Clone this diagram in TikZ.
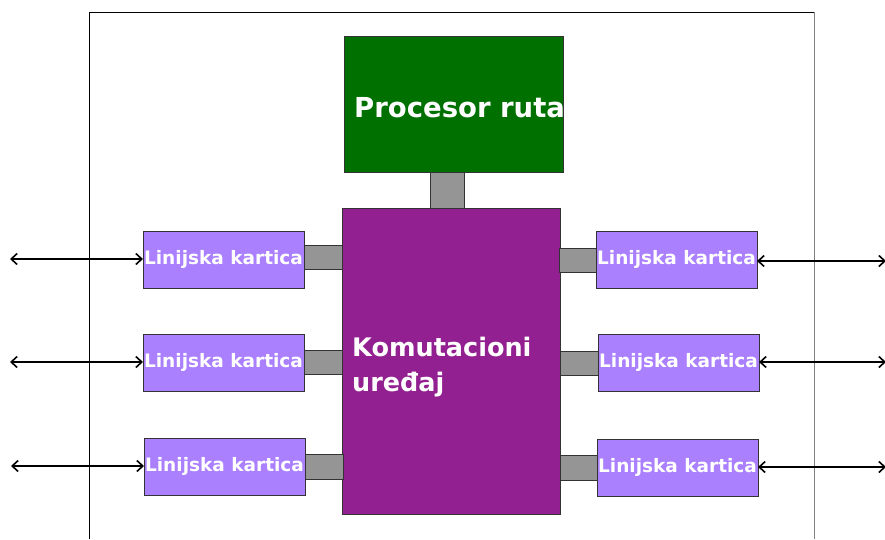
\documentclass[tikz,border=0pt]{standalone}
\usepackage{fontspec}
\setmainfont{DejaVu Sans}
\usetikzlibrary{arrows.meta}
\definecolor{procgreen}{HTML}{007000}
\definecolor{switchpurple}{HTML}{922090}
\definecolor{cardviolet}{HTML}{AA80FF}
\definecolor{linkgray}{HTML}{959595}
\tikzset{
  box/.style={draw=black!80, line width=0.8pt, inner sep=0pt, outer sep=0pt, anchor=north west},
  card/.style={box, fill=cardviolet, minimum width=161pt, minimum height=57pt,
    text=white, font=\fontsize{18.5}{18.5}\selectfont\bfseries},
  link/.style={box, fill=linkgray},
  io/.style={line width=1.6pt, {Straight Barb[length=6pt,width=11pt]}-{Straight Barb[length=6pt,width=11pt]}}
}
\begin{document}
\begin{tikzpicture}[x=1pt,y=-1pt]
\useasboundingbox (0,0) rectangle (885,539);
% router frame
\draw[black, line width=0.8pt] (89,539) -- (89,12) -- (814,12);
\draw[black!50, line width=1pt] (814,12) -- (814,539);
% route processor and its link to the switch fabric
\node[box, fill=procgreen, minimum width=219pt, minimum height=136pt] (proc) at (344,36) {};
\node[text=white, font=\fontsize{27.5}{27.5}\selectfont\bfseries, anchor=base west, inner sep=0pt] (proctext) at (354,117) {Procesor ruta};
\node[link, minimum width=34pt, minimum height=36pt] (plink) at (430,172) {};
% switch fabric
\node[box, fill=switchpurple, minimum width=218pt, minimum height=306pt] (fabric) at (342,208) {};
\node[text=white, font=\fontsize{25.5}{35}\selectfont\bfseries, anchor=base west, align=left, inner sep=0pt] (fabtext) at (352,391) {Komutacioni\\uređaj};
% links between line cards and fabric, left side
\node[link, minimum width=38pt, minimum height=24pt] (ll1) at (304,245) {};
\node[link, minimum width=38pt, minimum height=24pt] (ll2) at (304,350) {};
\node[link, minimum width=38pt, minimum height=25pt] (ll3) at (305,454) {};
% right side
\node[link, minimum width=38pt, minimum height=24pt] (rl1) at (559,248) {};
\node[link, minimum width=38pt, minimum height=24pt] (rl2) at (560,351) {};
\node[link, minimum width=38pt, minimum height=25pt] (rl3) at (560,455) {};
% line cards
\node[card] (lc1) at (143,231) {Linijska kartica};
\node[card] (lc2) at (143,334) {Linijska kartica};
\node[card] (lc3) at (144,438) {Linijska kartica};
\node[card] (rc1) at (596,231) {Linijska kartica};
\node[card] (rc2) at (598,334) {Linijska kartica};
\node[card] (rc3) at (597,439) {Linijska kartica};
% external ports
\coordinate (pl1) at (10,259);
\coordinate (pl2) at (10,362);
\coordinate (pl3) at (11,466);
\coordinate (pr1) at (886,261);
\coordinate (pr2) at (886,362);
\coordinate (pr3) at (886,467);
\draw[io] (pl1) -- (lc1.west |- pl1);
\draw[io] (pl2) -- (lc2.west |- pl2);
\draw[io] (pl3) -- (lc3.west |- pl3);
\draw[io] (rc1.east |- pr1) -- (pr1);
\draw[io] (rc2.east |- pr2) -- (pr2);
\draw[io] (rc3.east |- pr3) -- (pr3);
\end{tikzpicture}
\end{document}
